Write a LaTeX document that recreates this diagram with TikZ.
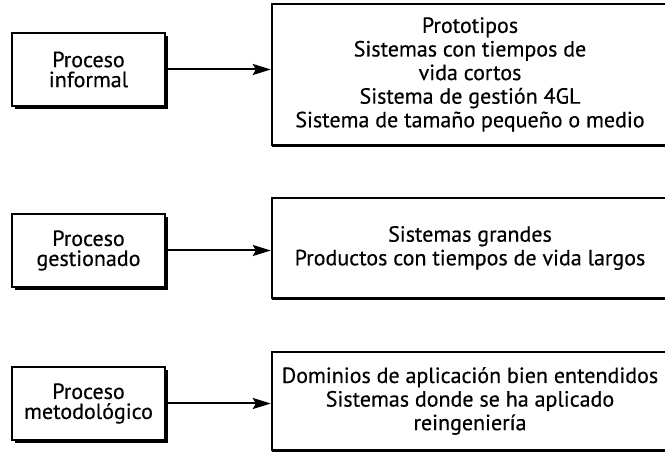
\documentclass[tikz,border=0pt]{standalone}
\usepackage{fontspec}
\setmainfont{PT Sans}[FakeBold=0.4]
\usetikzlibrary{arrows.meta,shadows}

\begin{document}
\begin{tikzpicture}[x=0.5pt,y=-0.5pt,
    proc/.style={draw, line width=1.2pt, fill=white, align=center, minimum width=76.5pt, minimum height=36.5pt, inner sep=2pt, font=\fontsize{11}{10}\selectfont, drop shadow={shadow xshift=1.6pt, shadow yshift=-1.6pt, opacity=1, fill=black}},
    uses/.style={draw, line width=1.2pt, fill=white, align=center, minimum width=198pt, inner sep=2pt, font=\fontsize{11}{11.8}\selectfont, drop shadow={shadow xshift=0pt, shadow yshift=-1.2pt, opacity=1, fill=black}},
    link/.style={-{Stealth[length=9pt,width=5.5pt,inset=1.5pt]}, line width=1pt}]
    \useasboundingbox (0,0) rectangle (665,453);
    \clip (0,0) rectangle (665,453);

    % process boxes on the left
    \node[proc] (informal) at (88.5,69.5) {Proceso\\informal};
    \node[proc] (gestion) at (88.5,250.5) {Proceso\\gestionado};
    \node[proc] (metodo) at (88.5,403.5) {Proceso\\metodológico};

    % kinds of systems on the right (right edge runs off the page)
    \node[uses, minimum height=70.5pt] (tipos1) at (470,74.5) {Prototipos\\Sistemas con tiempos de\\vida cortos\\Sistema de gestión 4GL\\Sistema de tamaño pequeño o medio};
    \node[uses, minimum height=50pt] (tipos2) at (470,248) {Sistemas grandes\\Productos con tiempos de vida largos};
    \node[uses, minimum height=49pt] (tipos3) at (470,401) {Dominios de aplicación bien entendidos\\Sistemas donde se ha aplicado\\reingeniería};

    % arrows
    \draw[link] (informal.east) -- (informal.east -| tipos1.west);
    \draw[link] (gestion.east) -- (gestion.east -| tipos2.west);
    \draw[link] (metodo.east) -- (metodo.east -| tipos3.west);
\end{tikzpicture}
\end{document}
